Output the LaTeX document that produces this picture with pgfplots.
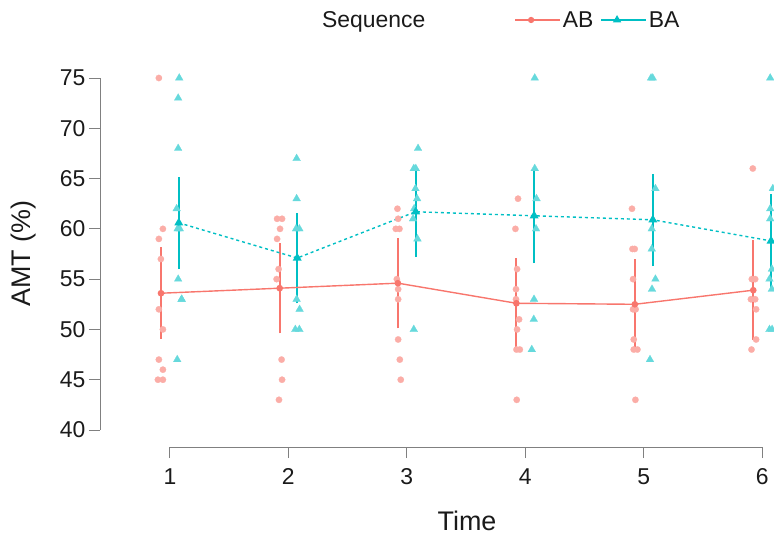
\documentclass[border=0pt]{standalone}
\usepackage{fontspec}
\setmainfont{Liberation Sans}
\usepackage{pgfplots}
\pgfplotsset{compat=1.18}

\definecolor{abcol}{HTML}{F8766D}
\definecolor{bacol}{HTML}{00BFC4}
\definecolor{axcol}{HTML}{808080}
\definecolor{txtcol}{HTML}{1A1A1A}

\begin{document}
\begin{tikzpicture}
\begin{axis}[
	scale only axis,
	width=674bp, height=387bp,
	xmin=0.41, xmax=6.10,
	ymin=38.31, ymax=76.79,
	axis x line*=bottom, axis y line*=left,
	x axis line style={draw=none}, y axis line style={draw=none},
	xtick={1,2,3,4,5,6}, ytick={40,45,50,55,60,65,70,75},
	tick align=outside, major tick length=11bp,
	tick style={axcol, line width=0.8bp},
	/pgf/number format/assume math mode=true,
	ticklabel style={font=\fontsize{23}{27}\selectfont, text=txtcol},
	xticklabel style={yshift=-7bp},
	xlabel={Time}, ylabel={AMT (\%)},
	label style={font=\fontsize{27}{32}\selectfont, text=txtcol},
	xlabel style={at={(axis description cs:0.5445,-0.191)}, anchor=center},
	ylabel style={at={(axis description cs:-0.114,0.5)}, anchor=center},
	clip=false,
	unbounded coords=jump,
	legend columns=-1,
	legend style={draw=none, fill=none, at={(axis description cs:0.322,1.1034)}, anchor=west,
		font=\fontsize{23}{27}\selectfont, text=txtcol},
	legend image code/.code={\draw[mark repeat=2, mark phase=2, #1] plot coordinates {(0bp,0bp) (16bp,0bp) (32bp,0bp)}; \path (0bp,0bp) -- (45bp,0bp);},
]
% AB interval bars (lower, upper)
\addplot[abcol, line width=2bp, forget plot] coordinates {
(0.925,49.05) (0.925,58.15) (nan,nan)
(1.927,49.6) (1.927,58.6) (nan,nan)
(2.925,50.1) (2.925,59.1) (nan,nan)
(3.925,48.1) (3.925,57.1) (nan,nan)
(4.925,48.0) (4.925,57.0) (nan,nan)
(5.925,48.9) (5.925,58.9)
};
% BA interval bars (lower, upper)
\addplot[bacol, line width=2bp, forget plot] coordinates {
(1.075,56.0) (1.075,65.2) (nan,nan)
(2.075,52.6) (2.075,61.6) (nan,nan)
(3.075,57.2) (3.075,66.2) (nan,nan)
(4.075,56.6) (4.075,66.0) (nan,nan)
(5.077,56.3) (5.077,65.5) (nan,nan)
(6.075,54.1) (6.075,63.5)
};
% raw AB points
\addplot[only marks, mark=*, mark size=3.2bp, forget plot,
	mark options={draw=abcol!60!white, fill=abcol!60!white, line width=0.2bp}] coordinates {
(0.907,75) (0.941,60) (0.907,59) (0.924,57) (0.907,52) (0.941,50) (0.907,47) (0.941,46) (0.899,45) (0.941,45)
(1.905,61) (1.947,61) (1.930,60) (1.905,59) (1.918,56) (1.901,55) (1.943,47) (1.947,45) (1.921,43)
(2.921,62) (2.927,61) (2.938,60) (2.907,60) (2.916,55) (2.927,54) (2.927,53) (2.927,49) (2.941,47) (2.949,45)
(3.939,63) (3.917,60) (3.931,56) (3.922,54) (3.922,53) (3.948,51) (3.931,50) (3.926,48) (3.954,48) (3.928,43)
(4.901,62) (4.905,58) (4.924,58) (4.910,55) (4.910,52) (4.932,52) (4.916,49) (4.916,48) (4.947,48) (4.930,43)
(5.921,66) (5.913,55) (5.941,55) (5.905,53) (5.941,53) (5.949,52) (5.949,49) (5.910,48)
};
% raw BA points
\addplot[only marks, mark=triangle*, mark size=4.5bp, forget plot,
	mark options={draw=bacol!60!white, fill=bacol!60!white, line width=0.2bp}] coordinates {
(1.079,75) (1.070,73) (1.070,68) (1.057,62) (1.065,60) (1.084,60) (1.070,55) (1.099,53) (1.099,53) (1.062,47)
(2.070,67) (2.070,63) (2.065,60) (2.093,60) (2.070,53) (2.095,52) (2.059,50) (2.093,50)
(3.095,68) (3.059,66) (3.076,66) (3.073,64) (3.087,63) (3.062,62) (3.053,61) (3.090,59) (3.059,50)
(4.080,75) (4.080,66) (4.095,63) (4.091,60) (4.074,53) (4.072,51) (4.055,48)
(5.062,75) (5.076,75) (5.099,64) (5.068,60) (5.068,58) (5.099,55) (5.070,54) (5.053,47)
(6.068,75) (6.090,64) (6.068,62) (6.068,61) (6.082,56) (6.062,55) (6.082,54) (6.062,50) (6.084,50)
};
% AB means
\addplot[abcol, line width=1.4bp, mark=*, mark size=2.6bp, forget plot] coordinates {
(0.925,53.6) (1.927,54.1) (2.925,54.6) (3.925,52.6) (4.925,52.5) (5.925,53.9)
};
% BA means
\addplot[bacol, line width=1.4bp, dash pattern=on 3bp off 3bp, mark=triangle*, mark size=3.8bp,
	mark options={solid}, forget plot] coordinates {
(1.075,60.6) (2.075,57.1) (3.075,61.7) (4.075,61.3) (5.077,60.9) (6.075,58.8)
};
\addlegendimage{empty legend}
\addlegendentry{Sequence\rule{87bp}{0bp}}
\addlegendimage{abcol, line width=1.4bp, mark=*, mark size=2.4bp}
\addlegendentry{AB\rule{5bp}{0bp}}
\addlegendimage{bacol, line width=1.4bp, mark=triangle*, mark size=3.5bp}
\addlegendentry{BA}
\draw[axcol, line width=0.8bp] (axis cs:0.41,40) -- (axis cs:0.41,75);
\draw[axcol, line width=0.8bp] (axis cs:1,38.31) -- (axis cs:6,38.31);
\end{axis}
\pgfresetboundingbox
\path[use as bounding box] ([xshift=-100bp,yshift=-92bp]current axis.south west) rectangle ([yshift=60bp]current axis.north east);
\end{tikzpicture}
\end{document}
